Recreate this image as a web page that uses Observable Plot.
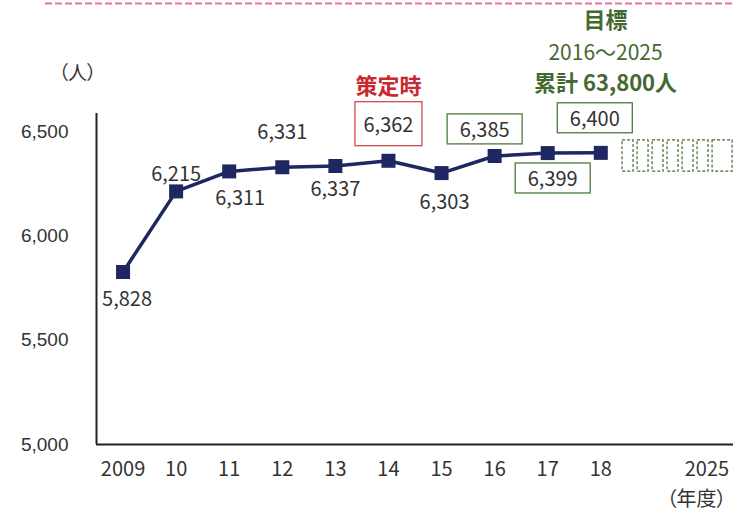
<!DOCTYPE html>
<html><head><meta charset="utf-8">
<script src="https://cdn.jsdelivr.net/npm/d3@7"></script>
<script src="https://cdn.jsdelivr.net/npm/@observablehq/plot@0.6"></script>
<style>
html,body{margin:0;padding:0;background:#fff;}
#chart svg{font-family:"Noto Sans CJK JP",sans-serif;font-feature-settings:"palt";overflow:visible;}
</style></head><body><div id="chart"></div>
<script>
// ---- data ----
const years = ["2009","10","11","12","13","14","15","16","17","18"];
const values = [5828,6215,6311,6331,6337,6362,6303,6385,6399,6400];
const axisYears = ["2009","10","11","12","13","14","15","16","17","18","2025"];
const yTicks = [5000,5500,6000,6500];
const targetYears = ["19","20","21","22","23","24","25"];
const targetBand = [6310, 6460];
const targetTitle = "目標";
const targetPeriod = "2016～2025";
const targetTotal = "累計 63,800人";
const baseLabel = "策定時";
const yUnit = "（人）";
const xUnit = "（年度）";

// ---- helpers ----
const NAVY = "#1e2761", GREEN = "#44692f", RED = "#c8282e";
const pos = y => (y === "2025" ? 11 : years.indexOf(y));
const rows = years.map((y, i) => ({year: y, x: pos(y), value: values[i]}));
const fmt = d3.format(",");

// label offsets (dx, dy) and box style
const place = {
  "2009": [4, 28, null], "10": [0, -17, null], "11": [11, 27, null],
  "12": [0, -35, null], "13": [0, 24, null], "14": [0, -35, "red"],
  "15": [3, 30, null], "16": [-10, -25, "green"], "17": [5, 27, "green"],
  "18": [-6, -33, "green"]
};

const boxes = targetYears.map((t, i) => ({
  year: t,
  x1: 9.41 + i * 0.2826,
  x2: 9.41 + i * 0.2826 + (i === targetYears.length - 1 ? 0.377 : 0.207),
  y1: targetBand[0], y2: targetBand[1]
}));

const labelMarks = rows.map(r => {
  const [dx, dy] = place[r.year];
  return Plot.text([r], {x: "x", y: "value", text: d => fmt(d.value), dx, dy,
    fontSize: 20, fill: "#333"});
});

const chart = Plot.plot({
  width: 733, height: 513,
  marginLeft: 96, marginRight: 0, marginTop: 113, marginBottom: 69,
  x: {domain: [-0.5, 11.5], axis: null},
  y: {domain: [5000, 6589], axis: null},
  marks: [
    // top pink dashed rule
    Plot.ruleY([7117], {x1: -1.46, x2: 11.5, stroke: "#e8739c", strokeWidth: 2.2, strokeDasharray: "7,3"}),
    // axes lines
    Plot.ruleX([-0.5], {y1: 5000, y2: 6589, stroke: "#222", strokeWidth: 2}),
    Plot.ruleY([5000], {stroke: "#222", strokeWidth: 2}),
    // y tick labels
    Plot.text(yTicks, {y: d => d, text: d => fmt(d), frameAnchor: "left", textAnchor: "end", dx: -28,
      fontSize: 19, fill: "#333", fontFamily: "Liberation Sans, Arial, sans-serif"}),
    // x tick labels
    Plot.text(axisYears, {x: d => pos(d), text: d => d, frameAnchor: "bottom", dy: 31, fontSize: 20, fill: "#333"}),
    // units
    Plot.text([yUnit], {text: d => d, frameAnchor: "top-left", dx: -38, dy: -47, fontSize: 19, fill: "#333"}),
    Plot.text([xUnit], {text: d => d, frameAnchor: "bottom-right", dx: -7, dy: 61, fontSize: 20, fill: "#333"}),
    // target placeholder boxes
    Plot.rect(boxes, {x1: "x1", x2: "x2", y1: "y1", y2: "y2", fill: "none", stroke: GREEN,
      strokeWidth: 1.2, strokeDasharray: "3,2"}),
    // line + markers
    Plot.line(rows, {x: "x", y: "value", stroke: NAVY, strokeWidth: 3.5}),
    Plot.dot(rows, {x: "x", y: "value", symbol: "square", r: 7.9, fill: NAVY}),
    ...labelMarks,
    // annotations
    Plot.text([baseLabel], {x: 5, y: 6362, text: d => d, dy: -74, fontSize: 22, fontWeight: "bold", fill: RED}),
    Plot.text([targetTitle], {x: 9.09, y: 7035, text: d => d, fontSize: 22, fontWeight: "bold", fill: GREEN}),
    Plot.text([targetPeriod], {x: 9.09, y: 7035, text: d => d, dy: 33, fontSize: 21, fill: GREEN}),
    Plot.text([targetTotal], {x: 9.09, y: 7035, text: d => d, dy: 63, fontSize: 22, fontWeight: "bold", fill: GREEN})
  ]
});
document.getElementById("chart").appendChild(chart);

// boxes around highlighted labels
const boxStyle = {red: {w: 67, h: 44, stroke: "#d04a50"}, green: {w: 75, h: 30, stroke: "#4d7a3c"}};
const boxed = {};
rows.forEach(r => { const s = place[r.year][2]; if (s) boxed[fmt(r.value)] = s; });
d3.select(chart).selectAll("text").each(function() {
  const t = this.textContent;
  if (!boxed[t]) return;
  const st = boxStyle[boxed[t]];
  const b = this.getBBox();
  const cx = b.x + b.width / 2, cy = b.y + b.height / 2;
  d3.select(this.parentNode).insert("rect", () => this)
    .attr("x", cx - st.w / 2).attr("y", cy - st.h / 2)
    .attr("width", st.w).attr("height", st.h)
    .attr("fill", "#fff").attr("stroke", st.stroke).attr("stroke-width", 1.3)
    .attr("transform", this.getAttribute("transform"));
});
</script></body></html>
